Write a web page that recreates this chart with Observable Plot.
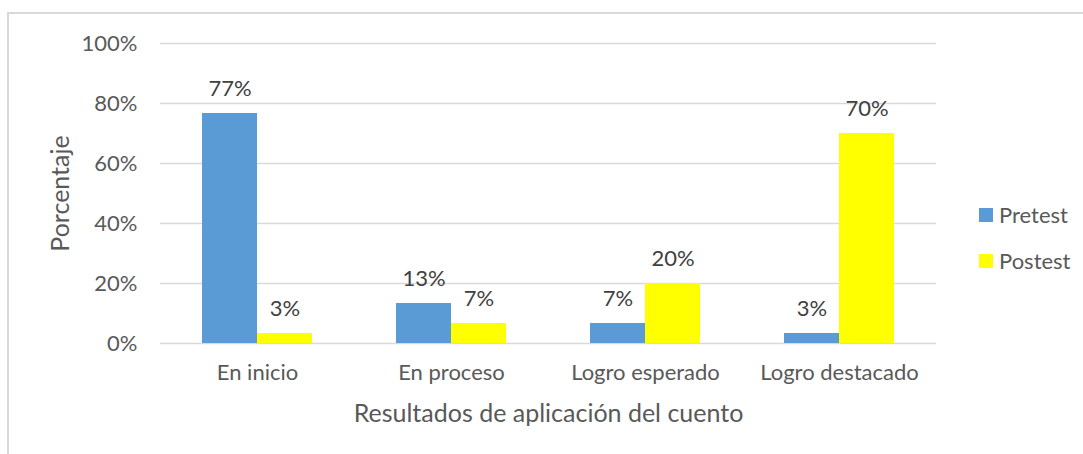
<!DOCTYPE html>
<html>
<head>
<meta charset="utf-8">
<script src="https://cdn.jsdelivr.net/npm/d3@7"></script>
<script src="https://cdn.jsdelivr.net/npm/@observablehq/plot@0.6"></script>
<style>
  html, body { margin: 0; padding: 0; background: #fff; }
  #wrap { position: relative; width: 1083px; height: 454px; overflow: hidden; font-family: Lato, "Open Sans", sans-serif; color: #595959; }
  #frame { position: absolute; left: 7px; top: 12px; width: 1200px; height: 600px; border: 2px solid #d9d9d9; box-sizing: border-box; }
  #chart { position: absolute; left: 0; top: 0; }
  .leg { position: absolute; left: 979px; display: flex; align-items: center; font-size: 22px; line-height: 1; }
  .sw { width: 14px; height: 14px; margin-right: 6px; }
</style>
</head>
<body>
<div id="wrap">
  <div id="frame"></div>
  <div id="chart"></div>
  <div id="legend"></div>
</div>
<script>
const categories = ["En inicio", "En proceso", "Logro esperado", "Logro destacado"];
const series = ["Pretest", "Postest"];
const pretest = [76.67, 13.33, 6.67, 3.33];
const postest = [3.33, 6.67, 20, 70];
const yTicks = [0, 20, 40, 60, 80, 100];
const colors = ["#5B9BD5", "#FFFF00"];

const data = [];
categories.forEach((c, i) => {
  data.push({category: c, series: "Pretest", value: pretest[i]});
  data.push({category: c, series: "Postest", value: postest[i]});
});

const chart = Plot.plot({
  width: 1083,
  height: 454,
  marginLeft: 159,
  marginRight: 146,
  marginTop: 43,
  marginBottom: 111,
  style: {fontFamily: "Lato, 'Open Sans', sans-serif", color: "#595959", background: "transparent", overflow: "visible"},
  fx: {domain: categories, padding: 0},
  x: {domain: series, paddingInner: 0, paddingOuter: 0.737, axis: null},
  y: {domain: [0, 100]},
  color: {domain: series, range: colors},
  marks: [
    Plot.gridY(yTicks, {stroke: "#d9d9d9", strokeOpacity: 1, strokeWidth: 1.5}),
    Plot.axisY(yTicks, {
      tickSize: 0, tickPadding: 23, tickFormat: d => d + "%", fontSize: 22,
      label: "Porcentaje", labelAnchor: "center", labelOffset: 109, labelArrow: "none"
    }),
    Plot.axisFx({
      anchor: "bottom", tickSize: 0, tickPadding: 21, fontSize: 22,
      label: "Resultados de aplicación del cuento", labelAnchor: "center", labelOffset: 78, labelArrow: "none"
    }),
    Plot.barY(data, {fx: "category", x: "series", y: "value", fill: "series"}),
    Plot.text(data, {fx: "category", x: "series", y: "value", text: d => Math.round(d.value) + "%", dy: -25, fontSize: 22, fill: "#404040"})
  ]
});
// larger axis titles
chart.querySelectorAll("g[aria-label='y-axis label'], g[aria-label='fx-axis label']").forEach(g => {
  g.setAttribute("font-size", 25);
  g.querySelectorAll("text").forEach(t => t.setAttribute("font-size", 25));
});
document.getElementById("chart").appendChild(chart);

const legend = document.getElementById("legend");
const legTops = [204, 250];
series.forEach((s, i) => {
  const d = document.createElement("div");
  d.className = "leg";
  d.style.top = legTops[i] + "px";
  d.innerHTML = `<span class="sw" style="background:${colors[i]}"></span><span>${s}</span>`;
  legend.appendChild(d);
});
</script>
</body>
</html>
